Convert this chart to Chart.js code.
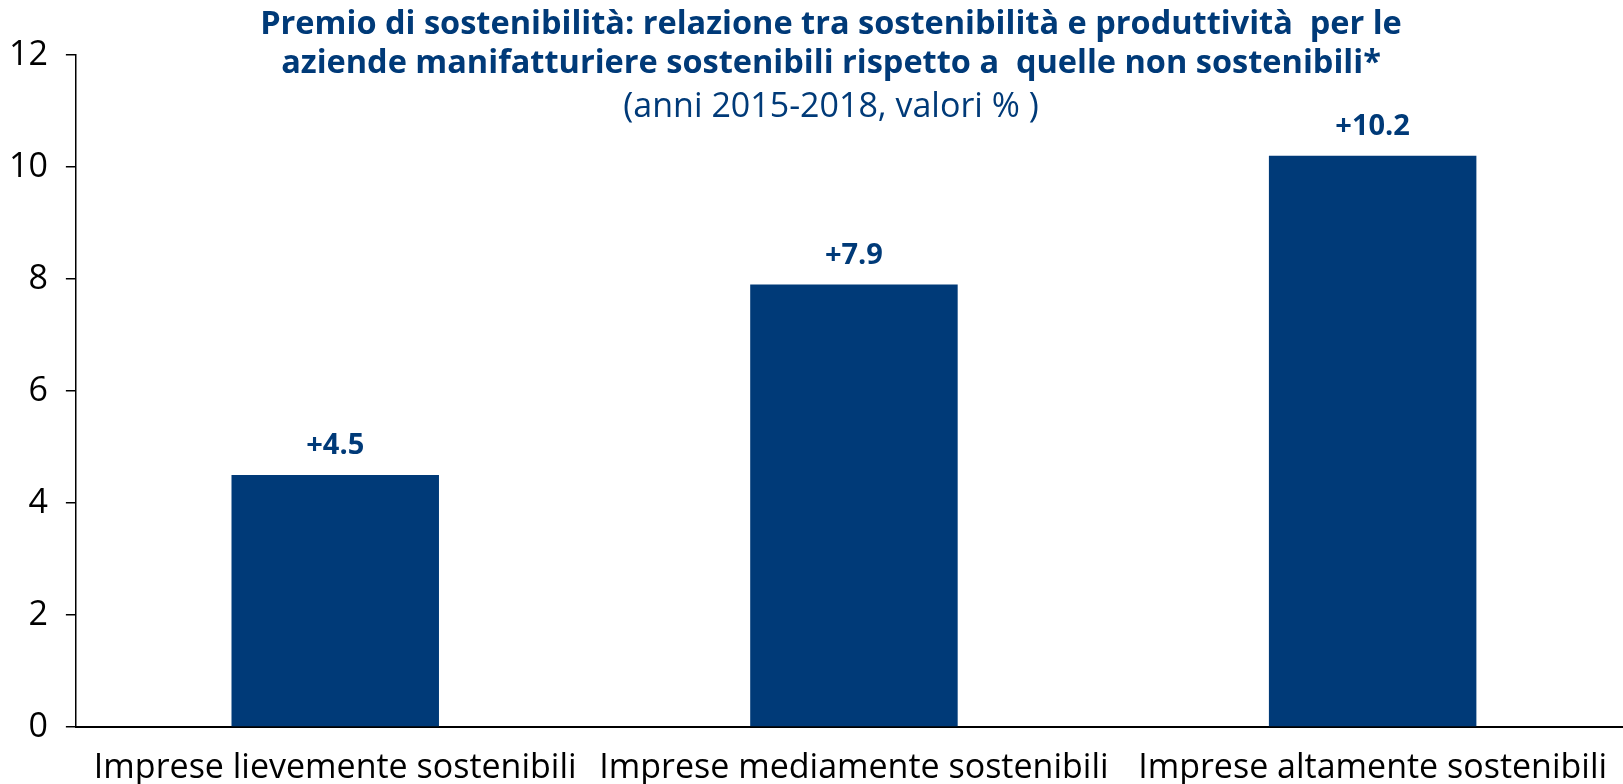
<!DOCTYPE html>
<html>
<head>
<meta charset="utf-8">
<script src="https://cdn.jsdelivr.net/npm/chart.js@4"></script>
<style>
  html, body { margin: 0; padding: 0; background: #fff; overflow: hidden; }
  #wrap { width: 1632px; height: 784px; }
</style>
</head>
<body>
<div id="wrap"><canvas id="premioChart"></canvas></div>
<script>
const categories = ['Imprese lievemente sostenibili', 'Imprese mediamente sostenibili', 'Imprese altamente sostenibili'];
const premio = [4.5, 7.9, 10.2];
const valueLabels = ['+4.5', '+7.9', '+10.2'];
const titleLines = [
  'Premio di sostenibilità: relazione tra sostenibilità e produttività  per le',
  'aziende manifatturiere sostenibili rispetto a  quelle non sostenibili*'
];
const subtitleText = '(anni 2015-2018, valori % )';

const BLUE = '#003a78';
const FONT = "'Open Sans', 'DejaVu Sans', sans-serif";

// title block sits inside the plot area, over the empty top part
const titlePlugin = {
  id: 'innerTitle',
  afterDraw(c) {
    const ctx = c.ctx;
    const cx = c.canvas.width / 2 + 15;
    ctx.save();
    ctx.fillStyle = BLUE;
    ctx.textAlign = 'center';
    ctx.textBaseline = 'middle';
    ctx.font = 'bold 32.5px ' + FONT;
    ctx.fillText(titleLines[0], cx, 25);
    ctx.fillText(titleLines[1], cx, 64);
    ctx.font = '34px ' + FONT;
    ctx.fillText(subtitleText, cx, 107);
    ctx.restore();
  }
};

// values printed above each bar
const valuePlugin = {
  id: 'valueLabels',
  afterDatasetsDraw(c) {
    const ctx = c.ctx;
    const meta = c.getDatasetMeta(0);
    ctx.save();
    ctx.fillStyle = BLUE;
    ctx.textAlign = 'center';
    ctx.textBaseline = 'middle';
    ctx.font = 'bold 29px ' + FONT;
    meta.data.forEach((bar, i) => {
      ctx.fillText(valueLabels[i], bar.x, bar.y - 29);
    });
    ctx.restore();
  }
};

new Chart(document.getElementById('premioChart'), {
  type: 'bar',
  data: {
    labels: categories,
    datasets: [{
      data: premio,
      backgroundColor: BLUE,
      borderWidth: 0,
      barPercentage: 0.4,
      categoryPercentage: 1.0
    }]
  },
  options: {
    responsive: true,
    maintainAspectRatio: false,
    animation: false,
    layout: { padding: { top: 55, right: 0, left: -9, bottom: -17 } },
    plugins: {
      legend: { display: false },
      tooltip: { enabled: false }
    },
    scales: {
      x: {
        grid: { display: false },
        border: { display: true, color: '#000', width: 2 },
        ticks: {
          color: '#000',
          font: { family: FONT, size: 34, lineHeight: 1 },
          padding: 16,
          maxRotation: 0,
          minRotation: 0,
          autoSkip: false
        }
      },
      y: {
        min: 0,
        max: 12,
        grid: { drawOnChartArea: false, drawTicks: true, tickLength: 10, color: '#000', lineWidth: 1.5 },
        border: { display: true, color: '#000', width: 1.5 },
        ticks: { stepSize: 2, color: '#000', font: { family: FONT, size: 34 }, padding: 18 }
      }
    }
  },
  plugins: [titlePlugin, valuePlugin]
});
</script>
</body>
</html>
